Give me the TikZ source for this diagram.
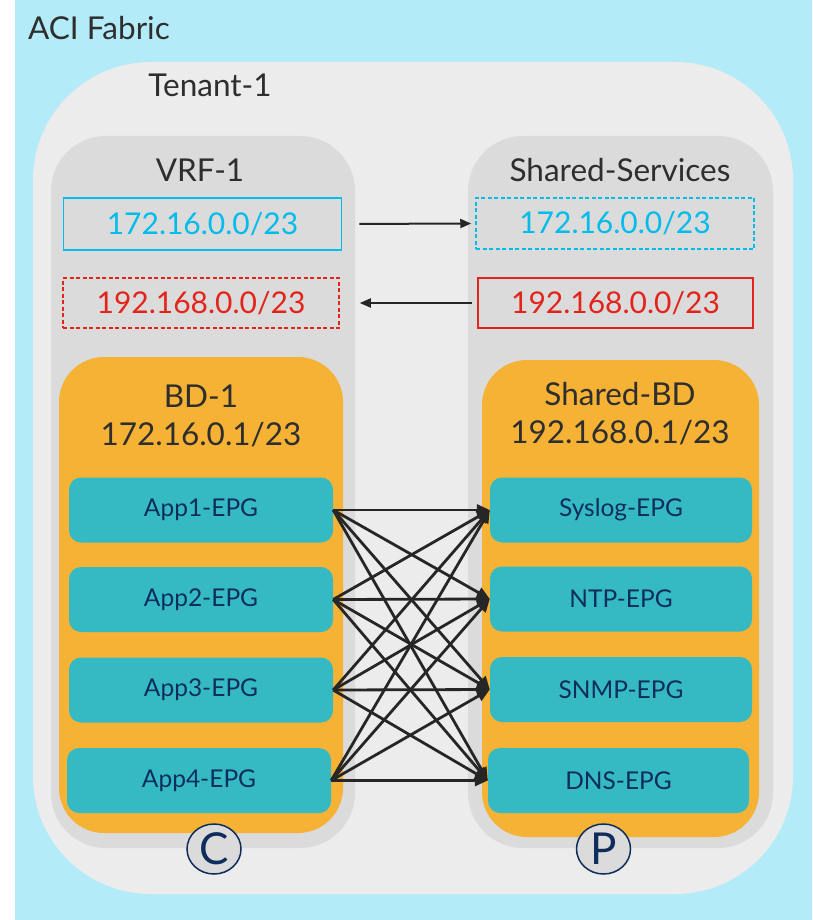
\documentclass[tikz,border=0pt]{standalone}
\usepackage{fontspec}
\setmainfont{Lato}
\usetikzlibrary{arrows.meta,shapes.geometric}
\definecolor{fabricbg}{HTML}{B3EBF8}
\definecolor{tenantbg}{HTML}{ECECEC}
\definecolor{vrfbg}{HTML}{DBDBDB}
\definecolor{bdorange}{HTML}{F6B234}
\definecolor{epgteal}{HTML}{35BAC4}
\definecolor{ipcyan}{HTML}{00BCEB}
\definecolor{ipred}{HTML}{E3241B}
\definecolor{txtdark}{HTML}{2E2E2E}
\definecolor{navy}{HTML}{0E2D5C}
\definecolor{arrowdark}{HTML}{262626}
\tikzset{
  big/.style={font=\fontsize{31.5}{36}\selectfont, text=txtdark, inner sep=0pt, anchor=base},
  ipbox/.style={draw, line width=1.5pt, inner sep=0pt, font=\fontsize{30}{34}\selectfont},
  epgbox/.style={fill=epgteal, rounded corners=12pt, inner sep=0pt, text=navy,
     font=\fontsize{24.5}{28}\selectfont, minimum height=65pt},
  mesh/.style={draw=arrowdark, line width=2.8pt, -{Triangle[length=13pt,width=11pt]}},
  iparrow/.style={draw=arrowdark, line width=2pt, -{Triangle[length=11pt,width=9pt]}},
  roleball/.style={draw=navy, line width=1.5pt, ellipse, minimum width=54pt, minimum height=50pt,
     inner sep=0pt, text=navy, font=\fontsize{44}{50}\selectfont},
}
\begin{document}
\begin{tikzpicture}[x=1pt,y=-1pt]
\useasboundingbox (0,0) rectangle (812,920);
\fill[white] (0,0) rectangle (812,920);
% fabric
\fill[fabricbg] (15,0) rectangle (812,920);
\node[big] (fabric) at (99,40) {ACI Fabric};
% tenant
\fill[tenantbg, rounded corners=118pt] (33,62) rectangle (793,894);
\node[big] (tenant) at (210,97) {Tenant-1};
% VRFs
\fill[vrfbg, rounded corners=55pt] (51,136) rectangle (355,848);
\fill[vrfbg, rounded corners=55pt] (468,136) rectangle (773,848);
\node[big] (vrf1) at (200,182) {VRF-1};
\node[big] (shsvc) at (620,182) {Shared-Services};
% IP boxes
\node[ipbox, draw=ipcyan, text=ipcyan, minimum width=278pt, minimum height=52pt] (lc) at (202.5,224) {172.16.0.0/23};
\node[ipbox, draw=ipred, text=ipred, dash pattern=on 4pt off 2.5pt, minimum width=276pt, minimum height=50pt] (lr) at (201,303) {192.168.0.0/23};
\node[ipbox, draw=ipcyan, text=ipcyan, dash pattern=on 4pt off 2.5pt, minimum width=278pt, minimum height=51pt] (rc) at (615,223.5) {172.16.0.0/23};
\node[ipbox, draw=ipred, text=ipred, minimum width=275pt, minimum height=50pt] (rr) at (615.5,303) {192.168.0.0/23};
\draw[iparrow, shorten <=17pt, shorten >=4pt] (lc.east) -- (rc.west);
\draw[iparrow, shorten <=5pt, shorten >=20pt] (rr.west) -- (lr.east);
% BDs
\fill[bdorange, rounded corners=45pt] (59,357) rectangle (343,833);
\fill[bdorange, rounded corners=45pt] (482,360) rectangle (759,837);
\node[big] (bd1) at (201,407) {BD-1};
\node[big] (bd1ip) at (201,445) {172.16.0.1/23};
\node[big] (shbd) at (620,405) {Shared-BD};
\node[big] (shbdip) at (620,443) {192.168.0.1/23};
% EPGs
\node[epgbox, minimum width=264pt] (a1) at (201,510) {App1-EPG};
\node[epgbox, minimum width=264pt] (a2) at (201,599.5) {App2-EPG};
\node[epgbox, minimum width=264pt] (a3) at (201,690) {App3-EPG};
\node[epgbox, minimum width=264pt] (a4) at (199,780.5) {App4-EPG};
\node[epgbox, minimum width=262pt] (s1) at (621,510) {Syslog-EPG};
\node[epgbox, minimum width=262pt] (s2) at (621,599) {NTP-EPG};
\node[epgbox, minimum width=262pt] (s3) at (621,689.5) {SNMP-EPG};
\node[epgbox, minimum width=261pt] (s4) at (618.5,780.5) {DNS-EPG};
\foreach \i in {1,...,4}{
  \foreach \j in {1,...,4}{
    \draw[mesh] (a\i.east) -- (s\j.west);
  }
}
% roles
\node[roleball, fill=vrfbg] (cons) at (214,849) {C};
\node[roleball, fill=vrfbg] (prov) at (603.5,849) {P};
\end{tikzpicture}
\end{document}
